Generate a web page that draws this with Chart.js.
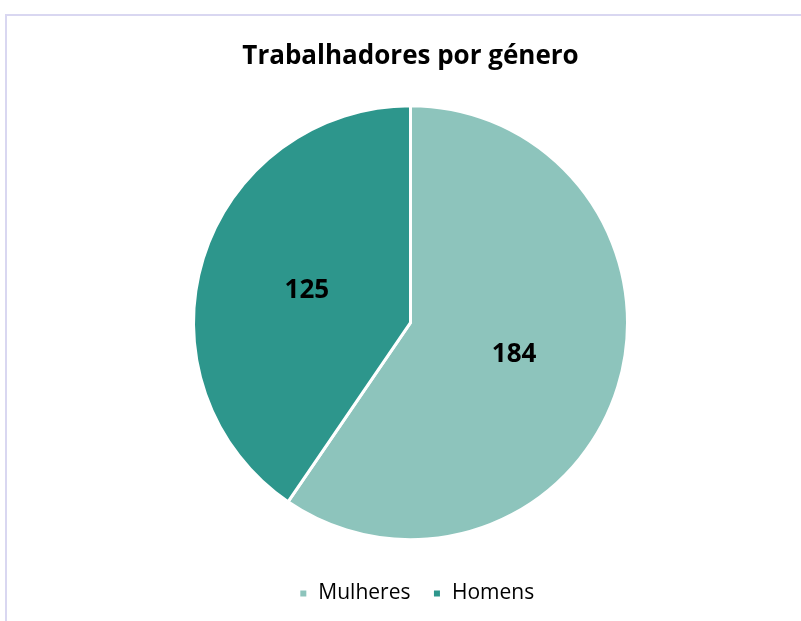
<!DOCTYPE html>
<html>
<head>
<meta charset="utf-8">
<script src="https://cdn.jsdelivr.net/npm/chart.js@4"></script>
<style>
  html, body { margin: 0; padding: 0; background: #fff; }
  #wrap { position: relative; width: 801px; height: 621px; overflow: hidden; }
  #frame { position: absolute; left: 5px; top: 14px; width: 900px; height: 700px; border: 2px solid #D9D7F1; box-sizing: border-box; }
  canvas { position: absolute; left: 0; top: 0; }
</style>
</head>
<body>
<div id="wrap">
  <div id="frame"></div>
  <canvas id="chart" width="801" height="621"></canvas>
</div>
<script>
// data
const categories = ['Mulheres', 'Homens'];
const workers = [184, 125];
const sliceColors = ['#8DC4BC', '#2D968C'];

// draws the value in the middle of each slice
const sliceLabels = {
    id: 'sliceLabels',
    afterDatasetsDraw(chart) {
        const ctx = chart.ctx;
        const meta = chart.getDatasetMeta(0);
        ctx.save();
        ctx.font = 'bold 26px "Open Sans"';
        ctx.fillStyle = '#000';
        ctx.textAlign = 'center';
        ctx.textBaseline = 'middle';
        meta.data.forEach(function(arc, i) {
            const p = arc.getCenterPoint();
            ctx.fillText(chart.data.datasets[0].data[i], p.x, p.y);
        });
        ctx.restore();
    }
};

// legend sits a little right of the pie centre in the original
const legendNudge = {
    id: 'legendNudge',
    afterLayout(chart) {
        chart.legend.left += 12;
    }
};

const ctx = document.getElementById('chart').getContext('2d');
const chart = new Chart(ctx, {
    type: 'pie',
    data: {
        labels: categories,
        datasets: [{
            data: workers,
            backgroundColor: sliceColors,
            borderColor: '#fff',
            borderWidth: 3
        }]
    },
    options: {
        responsive: false,
        animation: false,
        layout: { padding: { left: 20, right: 0, top: 0, bottom: 7 } },
        plugins: {
            title: {
                display: true,
                text: 'Trabalhadores por género',
                color: '#000',
                font: { family: 'Open Sans', size: 26, weight: 'bold' },
                padding: { top: 41, bottom: 32 }
            },
            legend: {
                position: 'bottom',
                title: {
                    display: true,
                    text: ' ',
                    font: { size: 9 },
                    padding: 4.5
                },
                labels: {
                    color: '#000',
                    font: { family: 'Open Sans', size: 21 },
                    boxWidth: 9,
                    boxHeight: 9,
                    padding: 22
                }
            },
            tooltip: { enabled: false }
        }
    },
    plugins: [sliceLabels, legendNudge]
});
</script>
</body>
</html>
